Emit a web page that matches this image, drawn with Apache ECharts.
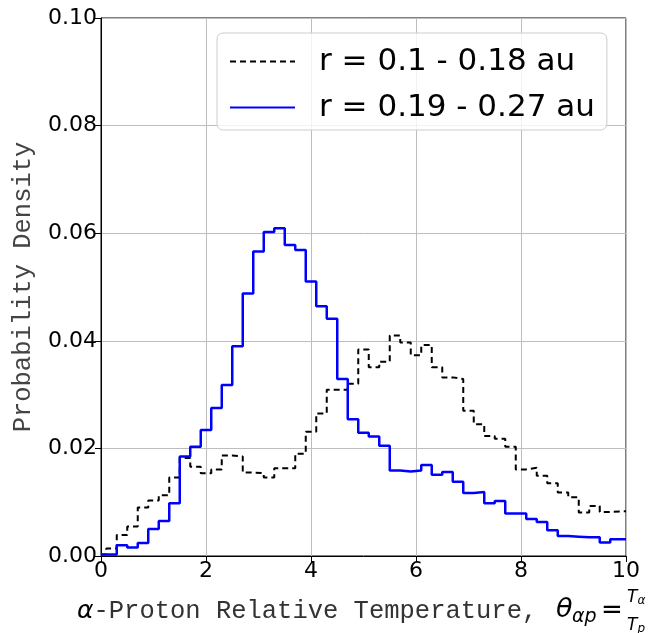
<!DOCTYPE html>
<html>
<head>
<meta charset="utf-8">
<script src="https://cdn.jsdelivr.net/npm/echarts@6/dist/echarts.min.js"></script>
<style>html,body{margin:0;padding:0;background:#fff;}#c{width:666px;height:633px;}</style>
</head>
<body>
<div id="c"></div>
<script>
// Left edges of histogram bins (last bin ends at 10)
var binEdges = [0, 0.1, 0.3, 0.5, 0.7, 0.9, 1.1, 1.3, 1.5, 1.7, 1.9, 2.1, 2.3, 2.5, 2.7, 2.9,
  3.1, 3.3, 3.5, 3.7, 3.9, 4.1, 4.3, 4.5, 4.7, 4.9, 5.1, 5.3, 5.5, 5.7, 5.9, 6.1, 6.3, 6.5,
  6.7, 6.9, 7.1, 7.3, 7.5, 7.7, 7.9, 8.1, 8.3, 8.5, 8.7, 8.9, 9.1, 9.3, 9.5, 9.7, 9.9];
var binEnd = 10;
var nearValues = [0.0003, 0.0014, 0.0039, 0.0055, 0.0090, 0.0103, 0.0113, 0.0146, 0.0182, 0.0166,
  0.0154, 0.0161, 0.0187, 0.0185, 0.0155, 0.0154, 0.0146, 0.0163, 0.0163, 0.0190,
  0.0231, 0.0265, 0.0309, 0.0309, 0.0320, 0.0384, 0.0351, 0.0361, 0.0410, 0.0397,
  0.0373, 0.0392, 0.0351, 0.0332, 0.0329, 0.0270, 0.0245, 0.0223, 0.0218, 0.0203,
  0.0161, 0.0164, 0.0149, 0.0135, 0.0118, 0.0109, 0.0081, 0.0093, 0.0082, 0.0083, 0.0083];
var farValues = [0.0003, 0.0003, 0.0020, 0.0016, 0.0024, 0.0050, 0.0065, 0.0098, 0.0185, 0.0203,
  0.0234, 0.0275, 0.0318, 0.0390, 0.0488, 0.0566, 0.0602, 0.0609, 0.0578, 0.0569,
  0.0510, 0.0464, 0.0441, 0.0329, 0.0254, 0.0229, 0.0222, 0.0205, 0.0159, 0.0157,
  0.0159, 0.0169, 0.0151, 0.0156, 0.0138, 0.0117, 0.0119, 0.0098, 0.0102, 0.0079,
  0.0079, 0.0069, 0.0063, 0.0048, 0.0037, 0.0036, 0.0035, 0.0035, 0.0025, 0.0031, 0.0031];
var seriesNames = ['r = 0.1 - 0.18 au', 'r = 0.19 - 0.27 au'];
var xTicks = [0, 2, 4, 6, 8, 10];
var yTicks = [0.00, 0.02, 0.04, 0.06, 0.08, 0.10];

function toSteps(vals) {
  var d = binEdges.map(function (e, i) { return [e, vals[i]]; });
  d.push([binEnd, vals[vals.length - 1]]);
  return d;
}

var chart = echarts.init(document.getElementById('c'), null, {renderer: 'canvas'});
var tickFont = 'DejaVu Sans';
chart.setOption({
  animation: false,
  grid: {left: 101, top: 18, width: 525, height: 538, show: true, borderColor: '#000', borderWidth: 1, backgroundColor: 'transparent'},
  xAxis: {
    type: 'value', min: xTicks[0], max: xTicks[xTicks.length - 1], interval: 2,
    axisLine: {show: true, lineStyle: {color: '#000', width: 1}},
    axisTick: {show: true, length: 6, lineStyle: {color: '#000'}},
    axisLabel: {fontFamily: tickFont, fontSize: 22, color: '#000', margin: 4},
    splitLine: {show: true, lineStyle: {color: '#bdbdbd', width: 1}}
  },
  yAxis: {
    type: 'value', min: yTicks[0], max: yTicks[yTicks.length - 1], interval: 0.02,
    name: 'Probability Density', nameLocation: 'middle', nameGap: 65, nameRotate: 90,
    nameTextStyle: {fontFamily: 'Liberation Mono', fontSize: 25.5, color: '#444'},
    axisLine: {show: true, lineStyle: {color: '#000', width: 1}},
    axisTick: {show: true, length: 6, lineStyle: {color: '#000'}},
    axisLabel: {fontFamily: tickFont, fontSize: 22, color: '#000', margin: 4,
      formatter: function (v) { return v.toFixed(2); }},
    splitLine: {show: true, lineStyle: {color: '#bdbdbd', width: 1}}
  },
  legend: {
    orient: 'vertical', left: 217, top: 33,
    itemWidth: 65, itemHeight: 14, itemGap: 15,
    padding: [13, 12, 7, 12],
    borderColor: '#cccccc', borderWidth: 1, borderRadius: 6,
    backgroundColor: 'rgba(255,255,255,0.8)',
    itemStyle: {opacity: 0},
    textStyle: {fontFamily: 'DejaVu Sans', fontSize: 31, color: '#000', padding: [0, 0, 0, 19]},
    data: seriesNames
  },
  series: [
    {name: seriesNames[0], type: 'line', step: 'end', symbol: 'none', showSymbol: false,
      data: toSteps(nearValues), clip: true,
      lineStyle: {color: '#000', width: 2, type: [6, 4]}, itemStyle: {color: '#000'}},
    {name: seriesNames[1], type: 'line', step: 'end', symbol: 'none', showSymbol: false,
      data: toSteps(farValues), clip: true,
      lineStyle: {color: '#0000ff', width: 2.5}, itemStyle: {color: '#0000ff'}}
  ],
  graphic: [
    {type: 'text', x: 77, y: 611, style: {
      text: '{a|α}{m|-Proton Relative Temperature,}',
      verticalAlign: 'middle', align: 'left',
      rich: {
        a: {fontFamily: 'DejaVu Sans', fontStyle: 'italic', fontSize: 25, fill: '#000'},
        m: {fontFamily: 'Liberation Mono', fontSize: 25.5, fill: '#333'}
      }}},
    {type: 'text', x: 556, y: 610, style: {text: 'θ', fontFamily: 'DejaVu Sans', fontStyle: 'italic', fontSize: 27, fill: '#000', verticalAlign: 'middle'}},
    {type: 'text', x: 572, y: 617, style: {text: 'αp', fontFamily: 'DejaVu Sans', fontStyle: 'italic', fontSize: 19, fill: '#000', verticalAlign: 'middle'}},
    {type: 'text', x: 601, y: 611, style: {text: '=', fontFamily: 'DejaVu Sans', fontSize: 26, fill: '#000', verticalAlign: 'middle'}},
    {type: 'text', x: 627, y: 598, style: {text: '{t|T}{s|α}', verticalAlign: 'middle',
      rich: {t: {fontFamily: 'DejaVu Sans', fontStyle: 'italic', fontSize: 17, fill: '#000'},
             s: {fontFamily: 'DejaVu Sans', fontStyle: 'italic', fontSize: 12, fill: '#000', padding: [5, 0, 0, 0]}}}},
    {type: 'text', x: 627, y: 626, style: {text: '{t|T}{s|p}', verticalAlign: 'middle',
      rich: {t: {fontFamily: 'DejaVu Sans', fontStyle: 'italic', fontSize: 17, fill: '#000'},
             s: {fontFamily: 'DejaVu Sans', fontStyle: 'italic', fontSize: 12, fill: '#000', padding: [5, 0, 0, 0]}}}}
  ]
});
</script>
</body>
</html>
